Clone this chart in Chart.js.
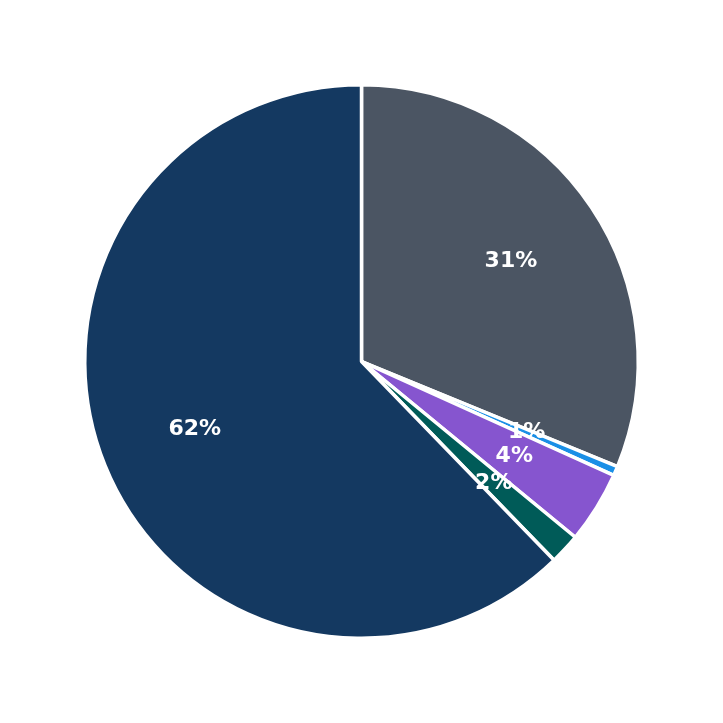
<!DOCTYPE html>
<html>
<head>
<meta charset="utf-8">
<script src="https://cdn.jsdelivr.net/npm/chart.js@4.4.0/dist/chart.umd.min.js"></script>
<style>
    html, body { margin: 0; padding: 0; background: #ffffff; }
    #wrap { width: 723px; height: 723px; }
</style>
</head>
<body>
<div id="wrap"><canvas id="pieChart"></canvas></div>
<script>
// === DATA ===
const categories = ["A", "B", "C", "D", "E"];
const shares = [31.2, 0.55, 4.2, 1.8, 62.25];
const sliceColors = ["#4b5563", "#1a8fe6", "#8655cf", "#005b58", "#143961"];

// labels drawn inside the slices, at ~65% of radius
const pctLabels = {
    id: "pctLabels",
    afterDatasetsDraw(chart) {
        const { ctx } = chart;
        const total = shares.reduce((a, b) => a + b, 0);
        chart.getDatasetMeta(0).data.forEach((arc, i) => {
            const p = arc.getProps(["x", "y", "startAngle", "endAngle", "outerRadius"], true);
            const mid = (p.startAngle + p.endAngle) / 2;
            const r = p.outerRadius * 0.65;
            const txt = Math.round((shares[i] / total) * 100) + "%";
            ctx.save();
            ctx.font = "bold 22px 'DejaVu Sans', sans-serif";
            ctx.fillStyle = "#ffffff";
            ctx.textAlign = "center";
            ctx.textBaseline = "middle";
            ctx.fillText(txt, p.x + Math.cos(mid) * r, p.y + Math.sin(mid) * r);
            ctx.restore();
        });
    },
};

new Chart(document.getElementById("pieChart").getContext("2d"), {
    type: "pie",
    data: {
        labels: categories,
        datasets: [
            {
                data: shares,
                backgroundColor: sliceColors,
                borderColor: "#ffffff",
                borderWidth: 3.5,
            },
        ],
    },
    options: {
        responsive: true,
        maintainAspectRatio: false,
        animation: false,
        layout: { padding: 83 },
        plugins: {
            legend: { display: false },
            tooltip: { enabled: false },
        },
    },
    plugins: [pctLabels],
});
</script>
</body>
</html>
